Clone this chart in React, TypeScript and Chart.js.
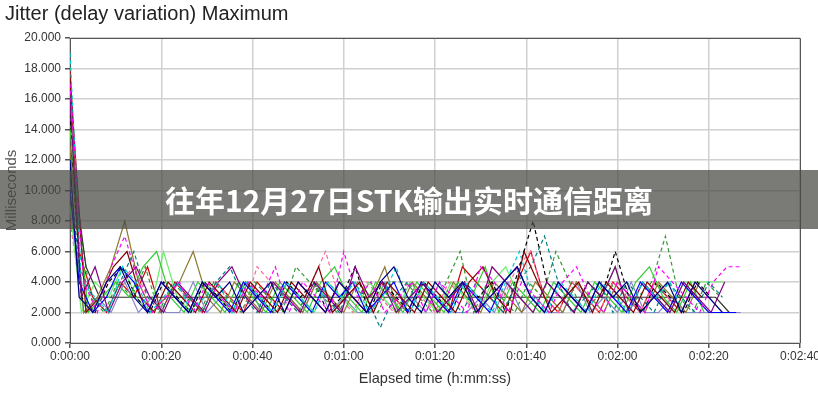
import React, { useEffect, useRef } from "react";
import { Chart, registerables } from "chart.js";
Chart.register(...registerables);

const TITLE = "Jitter (delay variation) Maximum";
const BANNER = "往年12月27日STK输出实时通信距离";
const Y_LABEL = "Milliseconds";
const X_LABEL = "Elapsed time (h:mm:ss)";
const X_MIN = 0;
const X_MAX = 160;
const X_STEP = 20;
const Y_MIN = 0;
const Y_MAX = 20;
const Y_STEP = 2;
const SAMPLE_STEP = 3; // seconds between samples

const seriesNames = ["s1","s2","s3","s4","s5","s6","s7","s8","s9","s10","s11","s12","s13","s14","s15","s16"];
const seriesColors = ["#000080","#ff00ff","#00cccc","#800080","#800000","#008080","#0000ff","#33cc33","#000000","#8c7a2e","#66ee66","#ff6699","#333333","#8888cc","#339933","#cc0000"];
const seriesDashed = [false,true,true,false,false,true,false,false,true,false,false,true,false,false,true,false];
const seriesPhase = [2,3,2.5,2.5,3.5,2,2,4,2.5,3,2.5,2,3.5,3,4.5,2];
const seriesStart = [12,17,19,16,17.5,11,10,14,15,13,9,8,13,10,12,18];

const s1 = [3,2,4,5,3,2,4,3,2,4,3,4,2,3,4,2,4,3,2,4,3,2,4,5,3,2,4,3,4,2,3,4,5,3,2,4,3,2,4,3,4,2,3,4,2,4,3,2];
const s2 = [4,2,5,7,4,2,3,4,2,4,3,2,4,3,5,2,4,3,2,6,3,4,2,3,4,2,4,3,2,5,4,2,4,3,2,4,5,3,2,4,3,2,5,4,3,2,4,5,5];
const s3 = [4,3,2,5,4,2,3,4,2,3,4,2,4,3,2,4,3,2,4,3,4,2,3,5,2,4,3,2,4,3,2,4,6,3,2,4,3,2,4,3,2,4,3,4,2];
const s4 = [3,5,2,4,5,3,2,4,3,2,4,5,3,2,4,3,2,4,3,2,5,3,4,2,3,4,2,3,4,2,5,4,3,2,4,3,2,4,3,5,2,4,3,2,4,3,2,4];
const s5 = [2,3,5,6,3,2,4,3,2,4,3,2,4,3,2,4,3,5,2,3,4,2,4,3,2,4,3,2,4,5,3,2,6,4,2,3,4,2,4,3,2,4,3,2,4,3];
const s6 = [5,3,2,4,6,3,2,4,3,2,4,5,3,2,4,3,2,4,3,2,4,3,1,3,4,2,4,3,2,4,3,2,4,5,7,4,2,3,4,2,4,3,2,4,3,2,4,3];
const s7 = [4,2,3,5,4,2,4,3,2,4,3,2,4,3,2,4,3,2,4,3,4,2,3,4,2,4,3,2,4,3,2,4,5,3,2,4,3,2,4,3,2,4,3,2,4,3,2,2,2];
const s8 = [2,3,4,3,5,6,3,2,4,3,2,4,3,2,4,3,2,4,5,3,2,4,3,2,4,3,2,4,3,5,2,4,3,2,4,3,2,4,3,2,4,5,3,2,4,2];
const s9 = [3,2,4,5,3,2,4,3,2,4,3,2,4,3,2,4,3,4,2,3,5,2,4,3,2,4,3,2,4,3,4,2,5,8,4,3,2,4,3,6,3,2,4,3,2,4,3];
const s10 = [2,3,5,8,4,2,3,4,6,3,2,4,3,2,4,3,2,4,3,2,4,3,5,2,4,3,2,4,3,2,4,3,2,4,3,2,4,3,2,4,3,2,4,3,2,4];
const s11 = [2,4,3,5,3,2,6,3,2,4,3,2,4,3,2,4,3,2,4,3,2,4,3,2,4,3,2,4,3,2,4,5,3,2,4,3,2,4,3,5,2,4,3,2,4,4,4,4];
const s12 = [4,3,2,4,5,3,2,4,3,2,4,3,2,5,4,3,2,4,6,3,2,4,3,2,4,3,2,4,3,2,4,3,5,6,3,2,4,3,2,4,3,2,4,3,2,4,3];
const s13 = [5,3,3,3,3,3,3,3,3,3,3,3,3,3,3,3,3,3,3,3,3,3,3,3,3,3,3,3,3,3,3,3,3,3,3,3,3,3,3,3,3,3,3,3,3,3,3,2];
const s14 = [2,3,2,4,2,3,2,2,4,2,3,2,4,2,2,3,2,4,2,3,2,2,4,2,3,2,4,2,2,3,2,4,2,3,2,2,4,2,3,2,4,2,2,3,2,2,2,2,2];
const s15 = [3,2,4,3,5,2,4,3,2,4,3,2,4,3,2,5,4,3,2,4,3,2,4,4,3,2,4,6,2,4,3,2,4,3,6,4,2,3,4,2,3,4,7,3,2,4,3];
const s16 = [6,3,2,4,3,5,2,4,3,2,4,3,2,4,3,2,4,3,2,4,3,2,4,3,2,4,3,2,5,4,3,2,4,6,3,2,4,3,2,4,3,2,4,3,2,4];

const seriesValues = [s1,s2,s3,s4,s5,s6,s7,s8,s9,s10,s11,s12,s13,s14,s15,s16];

function fmtTime(v: number): string {
  const h = Math.floor(v / 3600);
  const m = Math.floor(v / 60) % 60;
  const s = Math.round(v % 60);
  return `${h}:${String(m).padStart(2, "0")}:${String(s).padStart(2, "0")}`;
}

const overlayPlugin = {
  id: "overlay",
  afterDraw(chart: any) {
    const { ctx, chartArea } = chart;
    ctx.save();
    ctx.strokeStyle = "#555";
    ctx.lineWidth = 1;
    ctx.beginPath();
    ctx.moveTo(chartArea.left, chartArea.top + 0.5);
    ctx.lineTo(chartArea.right + 0.5, chartArea.top + 0.5);
    ctx.lineTo(chartArea.right + 0.5, chartArea.bottom);
    ctx.stroke();
    ctx.fillStyle = "#222";
    ctx.font = "20px 'Liberation Sans', Arial, sans-serif";
    ctx.textAlign = "left";
    ctx.textBaseline = "alphabetic";
    ctx.fillText(TITLE, 5, 20);
    ctx.fillStyle = "rgba(70,70,65,0.72)";
    ctx.fillRect(0, 170, chart.width, 59);
    ctx.fillStyle = "#ffffff";
    ctx.font = "bold 30px 'Noto Sans CJK SC', sans-serif";
    ctx.textAlign = "center";
    ctx.textBaseline = "middle";
    ctx.fillText(BANNER, 409, 201);
    ctx.restore();
  },
};

export default function App() {
  const ref = useRef<HTMLCanvasElement | null>(null);
  useEffect(() => {
    document.body.style.margin = "0";
    const datasets = seriesValues.map((vals, k) => ({
      label: seriesNames[k],
      data: [{ x: 0, y: seriesStart[k] }, ...vals.map((v, i) => ({ x: seriesPhase[k] + i * SAMPLE_STEP, y: v }))],
      borderColor: seriesColors[k],
      backgroundColor: seriesColors[k],
      borderWidth: 1.2,
      borderDash: seriesDashed[k] ? [4, 3] : [],
      pointRadius: 0,
      tension: 0,
      fill: false,
    }));
    const chart = new Chart(ref.current!, {
      type: "line",
      data: { datasets },
      options: {
        animation: false,
        responsive: false,
        maintainAspectRatio: false,
        layout: { padding: { top: 38, right: 18, bottom: 8, left: 0 } },
        plugins: { legend: { display: false }, tooltip: { enabled: false }, title: { display: false } },
        scales: {
          x: {
            type: "linear",
            min: X_MIN,
            max: X_MAX,
            ticks: {
              stepSize: X_STEP,
              callback: (v: any) => fmtTime(Number(v)),
              color: "#333",
              font: { family: "'Liberation Sans', Arial, sans-serif", size: 12 },
              padding: 1,
              maxRotation: 0,
              autoSkip: false,
            },
            grid: { color: "#d0d0d0", lineWidth: 1.5, tickLength: 5, tickColor: "#555" },
            border: { color: "#555", width: 1 },
            title: {
              display: true,
              text: X_LABEL,
              color: "#333",
              font: { family: "'Liberation Sans', Arial, sans-serif", size: 14.5 },
              padding: { top: 0, bottom: 4 },
            },
            afterFit: (scale: any) => {
              scale.height = 400 - 8 - 343;
              scale.paddingLeft = 0;
              scale.paddingRight = 0;
            },
          },
          y: {
            min: Y_MIN,
            max: Y_MAX,
            ticks: {
              stepSize: Y_STEP,
              callback: (v: any) => Number(v).toFixed(3),
              color: "#333",
              font: { family: "'Liberation Sans', Arial, sans-serif", size: 12 },
              padding: 4,
            },
            grid: { color: "#d0d0d0", lineWidth: 1.5, tickLength: 5, tickColor: "#555" },
            border: { color: "#555", width: 1 },
            title: {
              display: true,
              text: Y_LABEL,
              color: "#555",
              font: { family: "'Liberation Sans', Arial, sans-serif", size: 15 },
              padding: { top: 3, bottom: 0 },
            },
            afterFit: (scale: any) => {
              scale.width = 70;
              scale.paddingTop = 0;
              scale.paddingBottom = 0;
            },
          },
        },
      },
      plugins: [overlayPlugin],
    } as any);
    return () => chart.destroy();
  }, []);
  return (
    <div style={{ width: 818, height: 400, background: "#fff" }}>
      <canvas ref={ref} width={818} height={400} style={{ display: "block" }} />
    </div>
  );
}
